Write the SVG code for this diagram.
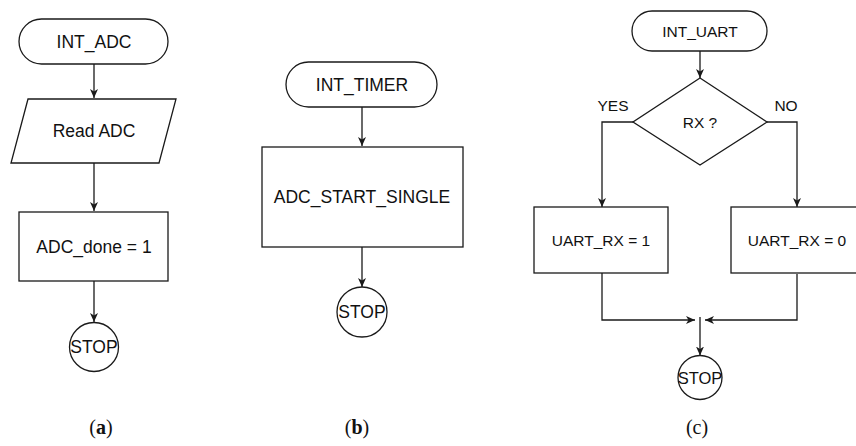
<svg xmlns="http://www.w3.org/2000/svg" width="856" height="446" viewBox="0 0 856 446">
<defs>
<style>
.s{fill:#fff;stroke:#1a1a1a;stroke-width:1.3}
.c{fill:none;stroke:#1a1a1a;stroke-width:1.3}
.t{font-family:"Liberation Sans",Arial,sans-serif;font-size:17.5px;fill:#111;text-anchor:middle}
.tc{font-family:"Liberation Sans",Arial,sans-serif;font-size:15.5px;fill:#111;text-anchor:middle}
.lab{font-family:"Liberation Serif","Times New Roman",serif;font-size:20px;fill:#111;text-anchor:middle}
</style>
<marker id="ah" viewBox="0 0 9 8" refX="9" refY="4" markerWidth="9" markerHeight="8" markerUnits="userSpaceOnUse" orient="auto">
<path d="M0,0 L9,4 L0,8 L2.5,4 z" fill="#1a1a1a"/>
</marker>
</defs>
<rect width="856" height="446" fill="#fff"/>
<g id="connectors">
<line class="c" x1="94" y1="64" x2="94" y2="98" marker-end="url(#ah)"/>
<line class="c" x1="94" y1="163" x2="94" y2="211" marker-end="url(#ah)"/>
<line class="c" x1="94" y1="281" x2="94" y2="322" marker-end="url(#ah)"/>
<line class="c" x1="362" y1="107" x2="362" y2="146" marker-end="url(#ah)"/>
<line class="c" x1="362" y1="247" x2="362" y2="287" marker-end="url(#ah)"/>
<line class="c" x1="700" y1="51" x2="700" y2="78" marker-end="url(#ah)"/>
<polyline class="c" points="633,122 602,122 602,207" marker-end="url(#ah)"/>
<polyline class="c" points="767,122 797,122 797,207" marker-end="url(#ah)"/>
<polyline class="c" points="602,273 602,320 695,320" marker-end="url(#ah)"/>
<polyline class="c" points="797,274 797,320 705,320" marker-end="url(#ah)"/>
<line class="c" x1="700" y1="317" x2="700" y2="355.5" marker-end="url(#ah)"/>
</g>
<g id="a-start"><rect class="s" x="19" y="19" width="149" height="45" rx="22.5"/><text class="t" x="94" y="47.5">INT_ADC</text></g>
<g id="a-read"><polygon class="s" points="28,99 176,99 159,163 11,163"/><text class="t" x="94" y="137">Read ADC</text></g>
<g id="a-done"><rect class="s" x="19" y="212" width="149" height="69"/><text class="t" x="94" y="252.5">ADC_done = 1</text></g>
<g id="a-stop"><circle class="s" cx="94" cy="347" r="24.5"/><text class="t" x="94" y="353">STOP</text></g>
<g id="b-start"><rect class="s" x="286" y="62" width="151" height="45" rx="22.5"/><text class="t" x="362" y="90.5">INT_TIMER</text></g>
<g id="b-adc"><rect class="s" x="262" y="147" width="201" height="100"/><text class="t" x="362" y="203">ADC_START_SINGLE</text></g>
<g id="b-stop"><circle class="s" cx="362" cy="312" r="25"/><text class="t" x="362" y="318">STOP</text></g>
<g id="c-start"><rect class="s" x="632" y="11" width="135" height="40" rx="20"/><text class="tc" x="700" y="36.5">INT_UART</text></g>
<g id="c-rx"><polygon class="s" points="700,78 767,122 700,165 633,122"/><text class="tc" x="700" y="127.5">RX ?</text></g>
<g id="c-yes"><text class="tc" x="613" y="111">YES</text></g>
<g id="c-no"><text class="tc" x="786" y="111">NO</text></g>
<g id="c-rx1"><rect class="s" x="534" y="207" width="134" height="66"/><text class="tc" x="601" y="245.5">UART_RX = 1</text></g>
<g id="c-rx0"><rect class="s" x="731" y="207" width="134" height="66"/><text class="tc" x="797" y="245.5">UART_RX = 0</text></g>
<g id="c-stop"><circle class="s" cx="700" cy="377.5" r="22"/><text class="t" x="700" y="383.5" style="font-size:16.5px">STOP</text></g>
<g id="labels">
<text class="lab" x="101" y="434">(<tspan font-weight="bold">a</tspan>)</text>
<text class="lab" x="357" y="434">(<tspan font-weight="bold">b</tspan>)</text>
<text class="lab" x="697" y="434">(c)</text>
</g>
</svg>
